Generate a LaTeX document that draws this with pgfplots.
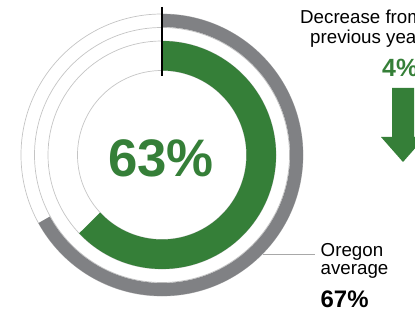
\documentclass[border=0pt]{standalone}
\usepackage{pgfplots}
\pgfplotsset{compat=1.18}
\usepackage{fontspec}
\setmainfont{Liberation Sans}
\definecolor{dgreen}{HTML}{357F38}
\definecolor{rgray}{HTML}{808184}
\definecolor{tgray}{HTML}{C4C4C4}
\definecolor{lgray}{HTML}{A8A8A8}
% data
\def\schoolval{63}
\def\stateval{67}
\def\changeval{4}
\begin{document}
\begin{tikzpicture}
\begin{axis}[x=1bp,y=1bp,xmin=0,xmax=415,ymin=0,ymax=311,hide axis,
  anchor=south west,at={(0,0)},clip=false]
% thin track outlines
\draw[tgray,line width=0.7bp] (axis cs:162,156) circle[radius=141bp];
\draw[tgray,line width=0.7bp] (axis cs:162,156) circle[radius=127.5bp];
\draw[tgray,line width=0.7bp] (axis cs:162,156) circle[radius=114bp];
\draw[tgray,line width=0.7bp] (axis cs:162,156) circle[radius=84.5bp];
% state average ring
\pgfmathsetmacro\endB{90-3.6*\stateval}
\draw[rgray,line width=13bp] (axis cs:162,156) ++(90:134.5bp) arc[start angle=90,end angle=\endB,radius=134.5bp];
% school ring
\pgfmathsetmacro\endA{90-3.6*\schoolval}
\draw[dgreen,line width=29.5bp] (axis cs:162,156) ++(90:99.25bp) arc[start angle=90,end angle=\endA,radius=99.25bp];
% start marker
\draw[black,line width=2.2bp] (axis cs:162,304) -- (axis cs:162,235);
% leader line
\addplot[lgray,line width=0.9bp,mark=none] coordinates {(263,57) (315,57)};
% arrow
\addplot[draw=none,fill=dgreen,mark=none] coordinates {(392,223) (414,223) (414,174) (425,174) (403,149) (381,174) (392,174)} -- cycle;
% texts
\tikzset{every node/.append style={inner sep=0pt}}
\node[anchor=base,dgreen,font=\fontsize{53}{56}\selectfont\bfseries] at (axis cs:161,134) {\schoolval\%};
\node[anchor=base west,font=\fontsize{18.8}{20}\selectfont] at (axis cs:300,287) {Decrease from};
\node[anchor=base west,font=\fontsize{18.8}{20}\selectfont] at (axis cs:310,267.5) {previous year};
\node[anchor=base west,dgreen,font=\fontsize{25}{27}\selectfont\bfseries] at (axis cs:382,234) {\changeval\%};
\node[anchor=base west,font=\fontsize{18.8}{20}\selectfont] at (axis cs:320.5,54.5) {Oregon};
\node[anchor=base west,font=\fontsize{18.8}{20}\selectfont] at (axis cs:320.5,36) {average};
\node[anchor=base west,font=\fontsize{24}{26}\selectfont\bfseries] at (axis cs:320.5,3.5) {\stateval\%};
\end{axis}
\pgfresetboundingbox
\path[use as bounding box] (0,0) rectangle (415bp,311bp);
\end{tikzpicture}
\end{document}
